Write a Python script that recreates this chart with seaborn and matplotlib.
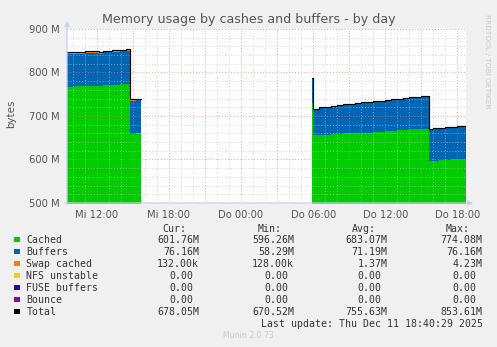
import numpy as np
import pandas as pd
import matplotlib
matplotlib.use("Agg")
import matplotlib.pyplot as plt
from matplotlib.patches import Rectangle
from matplotlib.ticker import MultipleLocator, FixedLocator
import seaborn as sns

# ---- data (hours since Wed 00:00, values in MB) ----
hours_a = [9.52, 10.2, 11.0, 11.7, 12.15, 12.55, 13.3, 13.95, 14.4, 14.75, 15.25, 15.7]
cached_a = [767.0, 768.0, 769.5, 770.0, 768.0, 771.0, 772.0, 773.0, 774.08, 659.0, 660.0, 660.0]
buffers_a = [75.0, 75.0, 75.0, 75.5, 75.0, 75.5, 75.5, 75.5, 76.0, 75.8, 75.8, 75.8]
swap_a = [4.23, 4.2, 4.0, 3.8, 3.8, 3.6, 3.6, 3.5, 3.5, 3.2, 3.0, 3.0]

hours_b = [29.9, 29.98, 30.5, 31.0, 31.5, 32.0, 32.5, 33.0, 33.5, 34.0, 34.5, 35.0, 35.5,
           36.0, 36.5, 37.0, 37.5, 38.0, 38.5, 39.0, 39.65, 40.0, 40.5, 41.0, 41.5, 42.0,
           42.4, 42.68]
cached_b = [730.0, 656.0, 657.0, 657.0, 658.0, 659.0, 660.0, 660.0, 661.0, 662.0, 662.0,
            663.0, 664.0, 665.0, 666.0, 667.0, 668.0, 669.0, 670.0, 671.0, 596.26, 597.0,
            598.0, 599.0, 600.0, 601.0, 601.76, 601.76]
buffers_b = [58.29, 61.0, 63.0, 64.0, 65.0, 66.0, 67.0, 68.0, 69.0, 69.5, 70.0, 71.0, 71.5,
             72.0, 72.5, 73.0, 73.5, 74.0, 74.0, 74.5, 74.13, 74.5, 75.0, 75.3, 75.6, 75.9,
             76.16, 76.16]
swap_b = [0.13] * len(hours_b)

tick_hours = [12, 18, 24, 30, 36, 42]
tick_labels = ["Mi 12:00", "Mi 18:00", "Do 00:00", "Do 06:00", "Do 12:00", "Do 18:00"]
y_ticks = [500, 600, 700, 800, 900]
y_labels = ["500 M", "600 M", "700 M", "800 M", "900 M"]

series_names = ["Cached", "Buffers", "Swap cached", "NFS unstable", "FUSE buffers", "Bounce", "Total"]
series_colors = ["#00cc00", "#0066b3", "#ff8000", "#ffcc00", "#330099", "#990099", "#000000"]
stat_cur = ["601.76M", "76.16M", "132.00k", "0.00", "0.00", "0.00", "678.05M"]
stat_min = ["596.26M", "58.29M", "128.00k", "0.00", "0.00", "0.00", "670.52M"]
stat_avg = ["683.07M", "71.19M", "1.37M", "0.00", "0.00", "0.00", "755.63M"]
stat_max = ["774.08M", "76.16M", "4.23M", "0.00", "0.00", "0.00", "853.61M"]

# ---- build the frame ----
frames = []
for seg, (h, c, b, s) in enumerate([(hours_a, cached_a, buffers_a, swap_a),
                                     (hours_b, cached_b, buffers_b, swap_b)]):
    d = pd.DataFrame({"hours": h, "cached": c, "buffers": b, "swap": s})
    d["segment"] = seg
    frames.append(d)
df = pd.concat(frames, ignore_index=True)
df["cb"] = df["cached"] + df["buffers"]
df["total"] = df["cb"] + df["swap"]

sns.set_style("white")
plt.rcParams["font.family"] = ["DejaVu Sans"]

W, H = 497, 347
fig = plt.figure(figsize=(W / 100, H / 100), dpi=100, facecolor="#f0f0f0")
ax = fig.add_axes([67 / W, (H - 203) / H, (466 - 67) / W, (203 - 29) / H])
ax.set_facecolor("white")

# stacked areas, drawn top layer first so lower layers cover it
for seg, d in df.groupby("segment"):
    ax.fill_between(d["hours"], 0, d["total"], step="post", color=series_colors[2], lw=0, zorder=1)
    ax.fill_between(d["hours"], 0, d["cb"], step="post", color=series_colors[1], lw=0, zorder=1.1)
    ax.fill_between(d["hours"], 0, d["cached"], step="post", color=series_colors[0], lw=0, zorder=1.2)

sns.lineplot(data=df, x="hours", y="total", units="segment", estimator=None,
             drawstyle="steps-post", color="black", lw=0.85, ax=ax, legend=False, zorder=3)

ax.set_xlim(9.52, 42.72)
ax.set_ylim(500, 900)
ax.set_xlabel("")
ax.set_ylabel("")

# ticks and grid
ax.xaxis.set_major_locator(FixedLocator(list(range(12, 43, 3))))
ax.set_xticklabels([tick_labels[tick_hours.index(t)] if t in tick_hours else "" for t in range(12, 43, 3)])
ax.xaxis.set_minor_locator(MultipleLocator(1))
ax.set_yticks(y_ticks)
ax.set_yticklabels(y_labels)
ax.yaxis.set_minor_locator(MultipleLocator(20))

ax.set_axisbelow(False)
ax.grid(which="minor", color="#c0c0c0", linestyle=(0, (1, 2)), lw=0.7, alpha=0.7)
ax.grid(which="major", color="#e07a7a", linestyle=(0, (1, 2)), lw=0.7, alpha=0.7)

ax.tick_params(which="major", length=2.5, width=0.7, color="#e8a0a0", labelsize=7.2,
               labelcolor="#555555")
ax.tick_params(axis="y", which="major", pad=2.8)
ax.tick_params(axis="x", which="major", pad=2.8)
ax.tick_params(which="minor", length=2, width=0.6, color="#d0d0d0")
for sp in ax.spines.values():
    sp.set_visible(False)

# axis lines with arrowheads
axis_col = "#c8d0f4"
ax.annotate("", xy=(0, 1.045), xytext=(0, -0.01), xycoords="axes fraction",
            arrowprops=dict(arrowstyle="-|>", color=axis_col, lw=0.9, mutation_scale=7,
                            shrinkA=0, shrinkB=0), annotation_clip=False)
ax.annotate("", xy=(1.018, 0), xytext=(-0.005, 0), xycoords="axes fraction",
            arrowprops=dict(arrowstyle="-|>", color=axis_col, lw=0.9, mutation_scale=7,
                            shrinkA=0, shrinkB=0), annotation_clip=False)


def fx(x):
    return x / W


def fy(y):
    return 1 - y / H


fig.text(fx(248.5), fy(20), "Memory usage by cashes and buffers - by day", ha="center",
         va="center", fontsize=9.1, color="#555555")
fig.text(fx(10.8), fy(114), "bytes", rotation=90, ha="center", va="center",
         fontsize=7.4, color="#555555")
fig.text(fx(487), fy(61), "RRDTOOL / TOBI OETIKER", rotation=270, ha="center", va="center",
         fontsize=5.3, color="#c8c8c8")

# legend table
mono = dict(family="DejaVu Sans Mono", fontsize=7.15, color="#333333")
header_y = 231.5
for txt, xr in [("Cur:", 186.7), ("Min:", 281.7), ("Avg:", 375.7), ("Max:", 470.0)]:
    fig.text(fx(xr), fy(header_y), txt, ha="right", va="baseline", **mono)

col_right = [199.0, 294.0, 387.7, 482.7]
char_w = 5.97
for i, name in enumerate(series_names):
    base = 243.0 + 12.0 * i
    fig.add_artist(Rectangle((fx(14.0), fy(base - 1.0)), 5.5 / W, 5.5 / H,
                             transform=fig.transFigure, color=series_colors[i], lw=0))
    fig.text(fx(26.3), fy(base), name, ha="left", va="baseline", **mono)
    for col, stats in enumerate([stat_cur, stat_min, stat_avg, stat_max]):
        v = stats[i]
        xr = col_right[col]
        if v[-1].isdigit():
            xr -= char_w
        fig.text(fx(xr), fy(base), v, ha="right", va="baseline", **mono)

fig.text(fx(482.7), fy(327.3), "Last update: Thu Dec 11 18:40:29 2025", ha="right",
         va="baseline", **mono)
fig.text(fx(248.5), fy(336), "Munin 2.0.73", ha="center", va="center", fontsize=5.6,
         color="#c8c8c8")

fig.savefig("out.png", dpi=100, facecolor=fig.get_facecolor())
